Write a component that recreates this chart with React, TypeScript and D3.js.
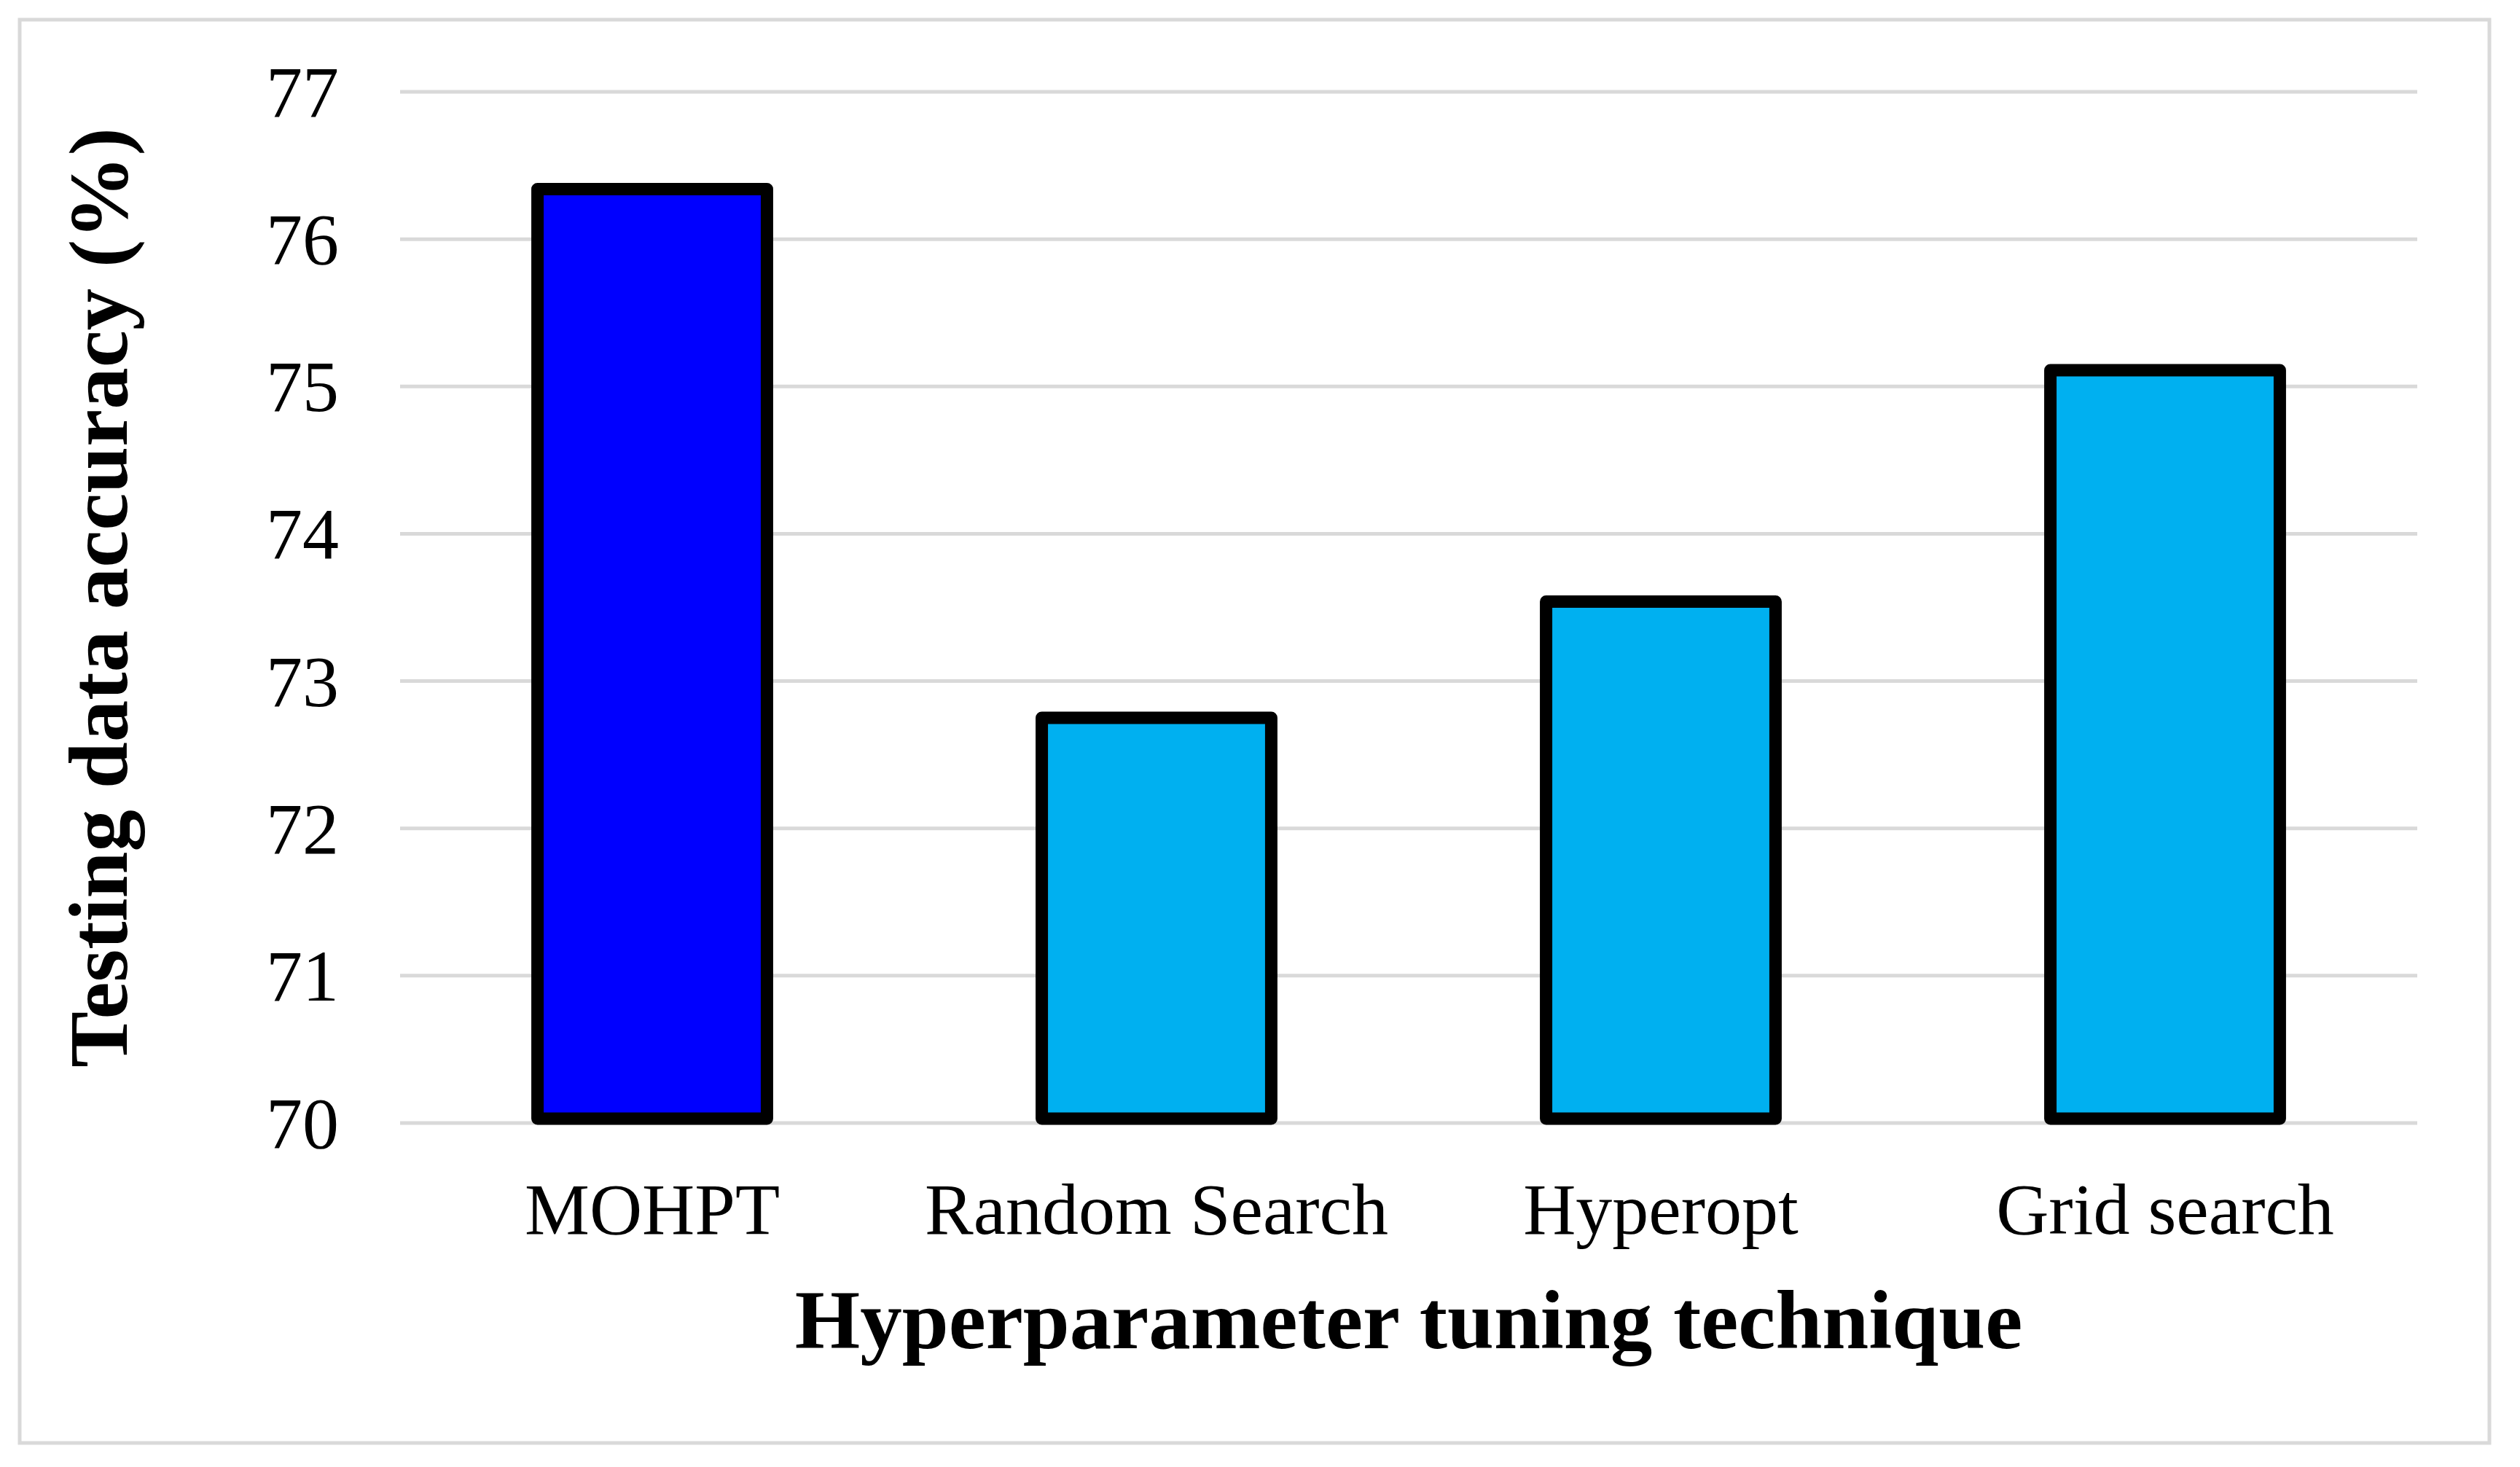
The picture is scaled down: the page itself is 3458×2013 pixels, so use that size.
import React, { useEffect, useRef } from 'react';
import * as d3 from 'd3';

const categories = ['MOHPT', 'Random Search', 'Hyperopt', 'Grid search'];
const accuracy = [76.34, 72.75, 73.54, 75.11];
const barColors = ['#0000FF', '#00B0F0', '#00B0F0', '#00B0F0'];
const yTicks = [70, 71, 72, 73, 74, 75, 76, 77];

const WIDTH = 3458;
const HEIGHT = 2013;
const FONT = '"Liberation Serif", "Times New Roman", serif';

export default function App() {
    const ref = useRef<SVGSVGElement>(null);

    useEffect(() => {
        const svg = d3.select(ref.current);
        svg.selectAll('*').remove();

        const plot = { left: 549, right: 3317, top: 126, bottom: 1541 };

        const xScale = d3.scaleBand()
            .domain(categories)
            .range([plot.left, plot.right])
            .paddingInner(0.545)
            .paddingOuter(0.2725);

        const yScale = d3.scaleLinear()
            .domain([70, 77])
            .range([plot.bottom, plot.top]);

        // outer frame
        svg.append('rect')
            .attr('x', 27)
            .attr('y', 27)
            .attr('width', 3389)
            .attr('height', 1953)
            .attr('fill', '#fff')
            .attr('stroke', '#d9d9d9')
            .attr('stroke-width', 5);

        // gridlines
        svg.append('g')
            .selectAll('line')
            .data(yTicks)
            .join('line')
                .attr('x1', plot.left)
                .attr('x2', plot.right)
                .attr('y1', (d) => yScale(d))
                .attr('y2', (d) => yScale(d))
                .attr('stroke', '#d9d9d9')
                .attr('stroke-width', 5);

        // y tick labels
        svg.append('g')
            .selectAll('text')
            .data(yTicks)
            .join('text')
                .attr('x', 465)
                .attr('y', (d) => yScale(d))
                .attr('dy', '0.34em')
                .attr('text-anchor', 'end')
                .style('font-family', FONT)
                .style('font-size', '100px')
                .text((d) => d);

        // bars
        svg.append('g')
            .selectAll('rect')
            .data(categories)
            .join('rect')
                .attr('x', (d) => xScale(d)!)
                .attr('y', (d, i) => yScale(accuracy[i]))
                .attr('width', xScale.bandwidth())
                .attr('height', (d, i) => yScale(70) - yScale(accuracy[i]) - 6)
                .attr('fill', (d, i) => barColors[i])
                .attr('stroke', '#000')
                .attr('stroke-width', 17)
                .attr('stroke-linejoin', 'round');

        // x category labels
        svg.append('g')
            .selectAll('text')
            .data(categories)
            .join('text')
                .attr('x', (d) => xScale(d)! + xScale.bandwidth() / 2)
                .attr('y', 1693)
                .attr('text-anchor', 'middle')
                .style('font-family', FONT)
                .style('font-size', '100px')
                .text((d) => d);

        // axis titles
        svg.append('text')
            .attr('x', (plot.left + plot.right) / 2)
            .attr('y', 1850)
            .attr('text-anchor', 'middle')
            .style('font-family', FONT)
            .style('font-size', '115px')
            .style('font-weight', 'bold')
            .text('Hyperparameter tuning technique');

        svg.append('text')
            .attr('transform', 'translate(174, 820) rotate(-90)')
            .attr('text-anchor', 'middle')
            .style('font-family', FONT)
            .style('font-size', '115px')
            .style('font-weight', 'bold')
            .text('Testing data accuracy (%)');
    }, []);

    return (
        <svg
            ref={ref}
            width={WIDTH}
            height={HEIGHT}
            style={{ position: 'absolute', left: 0, top: 0, background: '#fff' }}
        ></svg>
    );
}
